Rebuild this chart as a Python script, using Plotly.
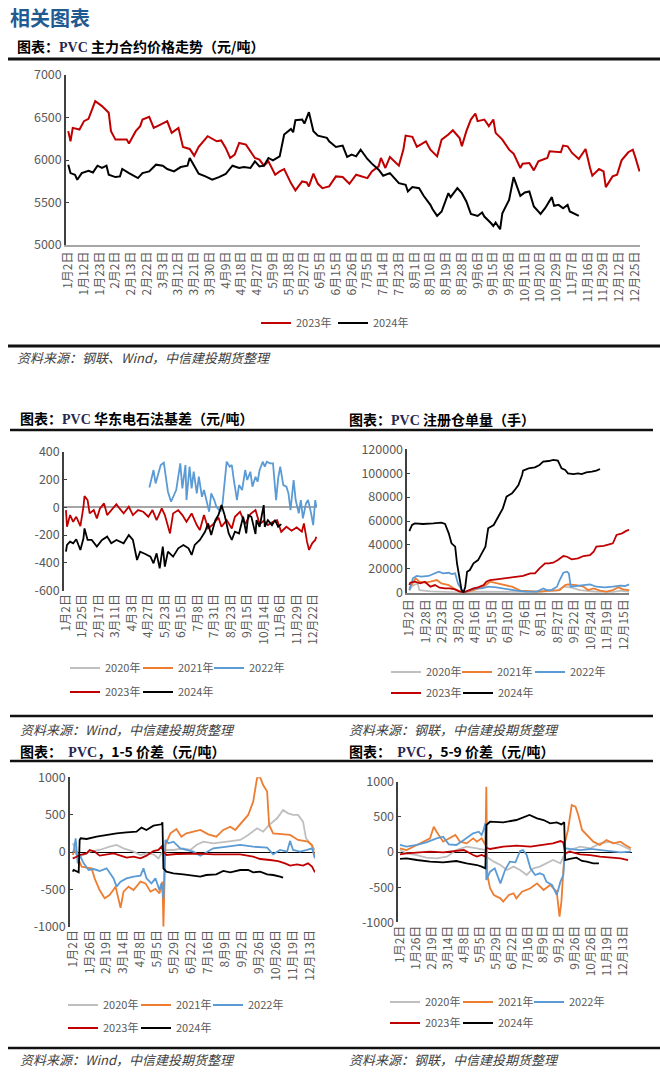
import plotly.graph_objects as go

W, H = 660, 1074


def X(px):
    return px / W


def Y(py):
    return 1 - py / H


# ---------------- data ----------------
# Chart 1: PVC main contract price (trading-day index, yuan/ton)
c1_labels = ["1月2日", "1月12日", "1月23日", "2月2日", "2月13日", "2月22日", "3月3日", "3月12日",
             "3月21日", "3月30日", "4月9日", "4月18日", "4月27日", "5月9日", "5月18日", "5月27日",
             "6月5日", "6月15日", "6月26日", "7月5日", "7月14日", "7月23日", "8月1日", "8月10日",
             "8月19日", "8月28日", "9月6日", "9月15日", "9月26日", "10月11日", "10月20日", "10月29日",
             "11月7日", "11月16日", "11月29日", "12月12日", "12月25日"]
c1_x23 = [0, 1, 2, 5, 7, 9, 12, 15, 18, 19, 21, 24, 26, 27, 30, 32, 33, 36, 38, 41, 44, 46, 49, 51, 54, 56,
          58, 61, 62, 66, 68, 70, 72, 74, 76, 79, 83, 85, 87, 89, 92, 94, 96, 99, 101, 104, 106, 107, 109,
          111, 113, 116, 119, 122, 125, 128, 131, 133, 135, 138, 139, 141, 143, 147, 149, 150, 153, 155,
          159, 161, 164, 166, 169, 171, 174, 175, 177, 179, 181, 182, 185, 187, 189, 190, 193, 196, 198,
          201, 202, 205, 207, 209, 213, 214, 219, 220, 222, 224, 227, 230, 232, 233, 236, 238, 239, 242,
          244, 246, 249, 251, 252, 254]
c1_y23 = [6340, 6220, 6378, 6358, 6457, 6484, 6693, 6634, 6555, 6339, 6240, 6240, 6240, 6193, 6339, 6398,
          6476, 6508, 6378, 6417, 6457, 6319, 6378, 6154, 6130, 6051, 6154, 6248, 6280, 6220, 6230, 6142,
          6024, 6063, 6201, 6181, 6024, 6004, 5933, 5984, 5827, 5866, 5894, 5728, 5642, 5748, 5736, 5689,
          5839, 5720, 5669, 5689, 5807, 5799, 5720, 5827, 5807, 5787, 5866, 5925, 6024, 5906, 6036, 5933,
          6122, 6287, 6272, 6154, 6220, 6122, 6043, 6240, 6299, 6350, 6259, 6161, 6339, 6476, 6547, 6457,
          6476, 6398, 6476, 6319, 6240, 6122, 6075, 5906, 5957, 5965, 5878, 5984, 6024, 6102, 6091, 6170,
          6161, 6083, 6012, 6130, 5906, 5815, 5894, 5866, 5681, 5807, 5827, 5996, 6091, 6122, 6043, 5866]
c1_x24 = [0, 1, 3, 4, 6, 9, 11, 13, 15, 17, 18, 21, 23, 24, 27, 31, 33, 36, 39, 42, 44, 47, 50, 53, 54, 56,
          58, 61, 64, 67, 70, 73, 76, 78, 81, 83, 85, 87, 89, 91, 94, 96, 99, 100, 101, 104, 105, 107, 109,
          111, 113, 115, 116, 119, 122, 124, 126, 128, 130, 133, 135, 138, 140, 143, 145, 147, 150, 151,
          153, 156, 158, 161, 162, 164, 166, 167, 169, 170, 173, 175, 177, 179, 182, 184, 185, 188, 189,
          190, 192, 193, 196, 198, 201, 203, 205, 207, 210, 212, 215, 216, 218, 220, 222, 223, 225, 227]
c1_y24 = [5945, 5846, 5827, 5768, 5846, 5874, 5854, 5933, 5906, 5933, 5827, 5799, 5807, 5894, 5846, 5787,
          5846, 5866, 5945, 5933, 5894, 5866, 5917, 5933, 6024, 5933, 5839, 5807, 5768, 5799, 5835, 5933,
          5906, 5917, 5906, 5984, 5925, 5933, 6024, 5996, 6043, 6299, 6366, 6327, 6469, 6476, 6429, 6563,
          6339, 6287, 6272, 6260, 6220, 6154, 6170, 6036, 6063, 6043, 6122, 6012, 5957, 5886, 5815, 5846,
          5787, 5728, 5709, 5630, 5681, 5669, 5579, 5472, 5421, 5342, 5394, 5472, 5610, 5563, 5669, 5610,
          5512, 5366, 5342, 5382, 5335, 5256, 5224, 5264, 5185, 5374, 5531, 5799, 5579, 5618, 5630, 5453,
          5366, 5433, 5563, 5461, 5472, 5433, 5472, 5394, 5366, 5342]
c1_yticks = [5000, 5500, 6000, 6500, 7000]
c1_yticktext = ["5000", "5500", "6000", "6500", "7000"]

# Chart 2: East China carbide-PVC basis
c2_labels = ["1月2日", "1月25日", "2月17日", "3月11日", "4月3日", "4月27日", "5月23日", "6月15日",
             "7月8日", "7月31日", "8月23日", "9月15日", "10月14日", "11月6日", "11月29日", "12月22日"]
c2_x22 = [81, 83, 85, 87, 90, 92, 95, 97, 99, 102, 104, 107, 111, 113, 116, 117, 120, 122, 124, 127, 129,
          132, 134, 137, 139, 141, 144, 146, 150, 152, 154, 156, 159, 161, 163, 166, 168, 171, 174, 176,
          179, 181, 184, 186, 188, 191, 193, 195, 198, 201, 204, 206, 208, 211, 214, 216, 218, 221, 223,
          226, 228, 230, 233, 235, 238, 240, 242, 243]
c2_y22 = [143, 215, 268, 172, 256, 304, 321, 220, 112, 40, 76, 124, 316, 136, 304, 52, 292, 136, 256, 100,
          220, 76, 124, 28, -32, 100, 52, 4, -32, 28, 172, 328, 292, 304, 196, 52, 160, 124, 268, 196, 256,
          148, 220, 184, 268, 328, 292, 328, 316, 316, 52, 208, 292, 160, 148, 100, -20, 196, 52, -44, 52,
          -80, 28, 52, -44, -128, 52, 4]
c2_x23 = [0, 1, 4, 7, 10, 14, 17, 18, 21, 23, 27, 30, 33, 37, 40, 44, 49, 52, 56, 61, 65, 70, 75, 80, 84,
          88, 93, 96, 101, 104, 109, 113, 117, 122, 127, 130, 134, 138, 143, 148, 151, 156, 161, 164, 169,
          174, 179, 184, 188, 192, 196, 201, 205, 209, 214, 219, 224, 229, 231, 234, 236, 239, 242, 243]
c2_y23 = [-20, -140, -56, -104, -68, -135, 4, 81, 52, -44, -20, -80, -8, 28, -56, -20, 23, -8, -44, 4, -56,
          -20, -32, -68, -20, -92, -8, -56, -188, -44, -20, -56, -104, -44, -128, -164, -56, -152, -121,
          -73, -140, -92, -152, -68, -32, -121, -49, -20, -121, -97, -128, -104, -92, -176, -140, -168,
          -145, -176, -116, -247, -307, -259, -235, -212]
c2_x24 = [0, 1, 4, 7, 10, 14, 17, 18, 21, 25, 30, 35, 40, 44, 49, 56, 61, 65, 69, 72, 77, 82, 85, 88, 91,
          94, 96, 99, 104, 109, 114, 119, 122, 125, 130, 135, 138, 141, 145, 148, 151, 154, 158, 161, 164,
          168, 172, 175, 177, 180, 184, 185, 188, 192, 193, 196, 200, 203, 206, 209]
c2_y24 = [-319, -271, -247, -259, -230, -307, -223, -152, -235, -235, -283, -235, -211, -259, -235, -259,
          -200, -235, -379, -319, -336, -355, -403, -331, -439, -283, -427, -319, -355, -295, -271, -295,
          -343, -271, -235, -176, -116, -200, -92, -56, 16, -56, -188, -235, -176, -188, -68, -188, -56,
          -68, -192, -92, -140, 16, -140, -92, -128, -92, -140, -121]
c2_yticks = [-600, -400, -200, 0, 200, 400]
c2_yticktext = ["-600", "-400", "-200", "0", "200", "400"]

# Chart 3: PVC registered warehouse receipts (lots)
c3_labels = ["1月2日", "1月28日", "2月23日", "3月20日", "4月16日", "5月15日", "6月10日", "7月6日",
             "8月1日", "8月27日", "9月22日", "10月24日", "11月19日", "12月15日"]
c3_x20 = [0, 3, 9, 11, 23, 44, 59, 77, 95, 117, 139, 161, 168, 176, 186, 204, 222, 230, 240]
c3_y20 = [1700, 5600, 7800, 2200, 1100, 560, 0, 800, 560, 560, 800, 1700, 5000, 4500, 2200, 800, 560, 1700,
          800]
c3_x21 = [0, 4, 7, 11, 17, 23, 30, 35, 43, 50, 59, 70, 81, 88, 95, 103, 112, 121, 132, 142, 153, 164, 170,
          173, 182, 190, 195, 201, 208, 215, 222, 228, 233, 240]
c3_y21 = [3600, 8400, 12000, 9200, 8400, 9200, 10600, 7800, 6400, 2800, 0, 2200, 5000, 9200, 7800, 6400,
          5000, 1700, 1400, 800, 1700, 2200, 6400, 7000, 6400, 5000, 2200, 3600, 1700, 800, 2200, 4500, 2800,
          2200]
c3_x22 = [0, 1, 4, 8, 13, 21, 26, 32, 37, 43, 46, 50, 53, 57, 59, 66, 73, 79, 86, 95, 106, 117, 128, 139,
          146, 150, 155, 161, 164, 168, 172, 174, 176, 181, 190, 197, 204, 213, 222, 230, 235, 240]
c3_y22 = [2200, 5000, 12000, 14000, 13400, 14000, 15600, 17600, 16200, 16700, 15600, 16200, 7800, 2800, 0,
          2200, 3600, 3600, 5000, 4500, 2800, 1700, 800, 800, 3600, 2200, 2200, 5000, 10600, 16700, 17600,
          16200, 5000, 5600, 6400, 7000, 5000, 4500, 5000, 5900, 5600, 7000]
c3_x23 = [0, 1, 6, 12, 17, 23, 28, 33, 39, 44, 50, 55, 59, 63, 66, 70, 75, 81, 84, 88, 95, 104, 112, 117,
          124, 132, 137, 142, 148, 152, 157, 162, 168, 172, 177, 184, 190, 197, 201, 204, 212, 219, 222,
          226, 232, 237, 240]
c3_y23 = [6400, 8400, 9200, 7800, 9200, 5000, 6400, 4200, 3600, 3600, 2800, 800, 0, 1400, 2800, 3600, 4500,
          6400, 9200, 10600, 11200, 12000, 12800, 13400, 14000, 16200, 16200, 20400, 24600, 24600, 25100,
          27300, 30700, 30100, 27900, 28700, 30700, 31500, 34300, 38500, 39100, 40700, 41300, 48300, 49700,
          51900, 52500]
c3_x24 = [0, 3, 6, 15, 26, 35, 39, 43, 46, 50, 52, 55, 57, 59, 61, 63, 66, 70, 75, 79, 83, 86, 92, 97, 102,
          106, 112, 115, 119, 123, 124, 130, 137, 142, 146, 152, 157, 162, 166, 170, 173, 179, 184, 188,
          193, 199, 204, 208]
c3_y24 = [51600, 56650, 58000, 57500, 58000, 58600, 57500, 49700, 41300, 38500, 24600, 9200, 2200, 0, 5000,
          17600, 19000, 24600, 27300, 32900, 38500, 53900, 56650, 63600, 70600, 80400, 83200, 86000, 90100,
          98500, 102100, 104100, 104900, 106900, 109700, 110200, 111100, 110500, 104100, 102700, 99900,
          99300, 99900, 99300, 100700, 101300, 102100, 103500]
c3_yticks = [0, 20000, 40000, 60000, 80000, 100000, 120000]
c3_yticktext = ["0", "20000", "40000", "60000", "80000", "100000", "120000"]

# Chart 4: PVC 1-5 spread
c4_labels = ["1月2日", "1月26日", "2月19日", "3月14日", "4月8日", "5月5日", "5月29日", "6月22日",
             "7月16日", "8月9日", "9月2日", "9月26日", "10月26日", "11月19日", "12月13日"]
c4_x20 = [0, 1, 6, 11, 17, 27, 37, 44, 51, 61, 68, 74, 81, 86, 89, 93, 101, 111, 118, 124, 131, 141, 155,
          168, 176, 185, 191, 197, 205, 211, 216, 221, 226, 231, 234, 238, 243]
c4_y20 = [116, 94, -62, -40, 5, 27, 71, 94, 49, 5, -40, -18, -31, -85, -18, 27, 27, 49, 27, 94, 138, 116,
          138, 161, 228, 317, 272, 362, 451, 563, 518, 496, 496, 406, 183, 116, 27]
c4_x21 = [0, 2, 6, 9, 14, 19, 22, 27, 32, 37, 43, 48, 51, 56, 61, 68, 73, 78, 83, 87, 90, 91, 93, 98, 104,
          109, 114, 121, 128, 136, 144, 151, 158, 163, 170, 176, 181, 185, 188, 191, 195, 197, 201, 208,
          218, 226, 231, 236, 240, 243]
c4_y21 = [-40, 27, -107, -196, -210, -219, -353, -509, -620, -576, -464, -746, -531, -464, -509, -397, -420,
          -531, -495, -553, -397, -1000, 94, 250, 308, 205, 250, 272, 295, 237, 205, 295, 339, 295, 406,
          496, 674, 1000, 1000, 897, 808, 362, 250, 237, 228, 161, 147, 138, 94, -85]
c4_x22 = [0, 1, 3, 5, 7, 11, 16, 21, 27, 34, 41, 44, 48, 54, 61, 68, 71, 74, 79, 83, 87, 89, 91, 93, 96,
          101, 108, 114, 121, 128, 134, 141, 155, 168, 181, 195, 201, 208, 215, 218, 221, 228, 235, 240, 243]
c4_y22 = [-4, 13, 183, -152, -40, -152, -241, -228, -254, -219, -353, -464, -397, -353, -330, -317, -219,
          -353, -420, -353, -509, -420, -620, 161, 116, 138, 49, 27, 5, -49, -4, 49, 71, 94, 71, 58, -31,
          27, 5, 147, 27, 5, 27, 49, -85]
c4_x23 = [0, 2, 7, 14, 17, 22, 27, 34, 41, 48, 54, 61, 68, 74, 81, 86, 89, 91, 94, 104, 114, 128, 141, 155,
          168, 181, 188, 198, 206, 213, 218, 225, 231, 236, 240, 243]
c4_y23 = [-85, -76, -40, -18, 27, 5, -49, -31, -18, -49, -76, -62, -85, -49, 13, 27, 71, 5, -40, -27, -22,
          -22, -31, -31, -31, -62, -94, -107, -121, -152, -183, -165, -183, -152, -196, -272]
c4_x24 = [0, 1, 6, 7, 8, 14, 24, 34, 44, 54, 64, 69, 74, 81, 86, 89, 90, 91, 94, 101, 111, 121, 128, 134,
          144, 151, 158, 168, 176, 181, 188, 195, 201, 208, 211]
c4_y24 = [-263, -241, -272, 161, 183, 174, 205, 228, 250, 263, 272, 326, 295, 353, 362, 371, 397, -219,
          -263, -286, -299, -317, -330, -308, -299, -254, -272, -241, -241, -272, -263, -299, -308, -330,
          -344]
spread_yticks = [-1000, -500, 0, 500, 1000]
spread_yticktext = ["-1000", "-500", "0", "500", "1000"]

# Chart 5: PVC 5-9 spread
c5_labels = c4_labels
c5_x20 = [0, 7, 18, 28, 39, 50, 60, 71, 82, 91, 92, 100, 107, 114, 121, 128, 135, 142, 149, 156, 163, 171,
          174, 181, 192, 203, 213, 224, 235, 246]
c5_y20 = [28, -19, -43, -80, -90, -66, 28, 76, 52, 28, -66, -137, -185, -256, -208, -256, -327, -232, -208,
          -161, -114, -161, -66, 28, 76, 52, 123, 147, 100, 28]
c5_x21 = [0, 7, 18, 25, 32, 36, 39, 46, 53, 59, 64, 71, 78, 82, 87, 91, 92, 93, 96, 100, 107, 110, 116,
          121, 124, 130, 139, 146, 153, 160, 167, 170, 172, 176, 179, 183, 187, 190, 194, 199, 206, 213, 220,
          227, 235, 240, 246]
c5_y21 = [52, 28, 100, 147, 194, 360, 289, 147, 194, 242, 147, 123, 194, 147, 194, 100, 929, -327, -516,
          -611, -659, -706, -611, -588, -659, -564, -516, -446, -540, -469, -564, -919, -706, 147, 313, 668,
          645, 526, 313, 242, 147, 100, 171, 123, 147, 100, 52]
c5_x22 = [0, 7, 18, 28, 39, 46, 52, 60, 68, 75, 78, 84, 87, 89, 91, 92, 96, 101, 107, 112, 117, 123, 128,
          131, 135, 139, 144, 149, 153, 156, 162, 167, 171, 174, 176, 181, 192, 203, 213, 224, 235, 246]
c5_y22 = [100, 76, 100, 137, 194, 218, 109, 100, 171, 242, 265, 289, 242, 313, 408, -398, -280, -232, -446,
          -256, -137, -147, 14, 28, -43, -232, -327, -303, -327, -422, -469, -611, -422, -327, 52, 43, 28,
          43, 28, 5, -5, 5]
c5_x23 = [0, 7, 21, 32, 46, 57, 68, 78, 82, 87, 91, 92, 96, 110, 124, 139, 153, 163, 171, 174, 176, 181,
          192, 203, 213, 224, 235, 243]
c5_y23 = [-33, -19, -5, 5, -5, 14, 28, -43, -66, -43, -66, 62, 43, 76, 90, 76, 109, 123, 156, 137, -19, 5,
          -33, -43, -66, -80, -90, -114]
c5_x24 = [0, 7, 18, 32, 46, 60, 71, 82, 87, 91, 92, 96, 110, 124, 138, 146, 153, 160, 167, 172, 175, 176,
          181, 188, 194, 199, 206, 212]
c5_y24 = [-99, -90, -114, -137, -147, -128, -161, -185, -208, -232, 384, 431, 422, 455, 526, 479, 455, 408,
          422, 393, 422, -114, -99, -80, -128, -137, -161, -161]

colors = {"2020年": "#BFBFBF", "2021年": "#ED7D31", "2022年": "#5B9BD5",
          "2023年": "#C00000", "2024年": "#000000"}

# ---------------- figure ----------------
fig = go.Figure()
FONT = "Noto Sans CJK SC"
TICKC = "#595959"
legends = {}


def legend_cfg(px, py):
    return dict(orientation="h", x=X(px), y=Y(py), xanchor="left", yanchor="middle",
                font=dict(family=FONT, size=11, color=TICKC), bgcolor="rgba(0,0,0,0)",
                itemwidth=30, tracegroupgap=0, itemclick=False, itemdoubleclick=False)


def add(xs, ys, year, xa, ya, lx, ly, shift, width=1.8):
    n = len(fig.data) + 1
    lid = "legend" if n == 1 else f"legend{n}"
    legends[lid] = legend_cfg(lx - shift, ly)
    fig.add_trace(go.Scatter(
        x=xs if xs is not None else [None], y=ys if ys is not None else [None],
        mode="lines", name=year, line=dict(color=colors[year], width=width),
        xaxis=xa, yaxis=ya, legend=lid, showlegend=True, hoverinfo="skip"))


# chart 1
add(c1_x23, c1_y23, "2023年", "x", "y", 268, 323, 12, 2)
add(c1_x24, c1_y24, "2024年", "x", "y", 345, 323, 12, 2)

# chart 2
add(None, None, "2020年", "x2", "y2", 79, 668, 14)
add(None, None, "2021年", "x2", "y2", 147, 668, 9)
add(c2_x22, c2_y22, "2022年", "x2", "y2", 213, 668, 4)
add(c2_x23, c2_y23, "2023年", "x2", "y2", 79, 692, 14)
add(c2_x24, c2_y24, "2024年", "x2", "y2", 147, 692, 9)

# chart 3
add(c3_x20, c3_y20, "2020年", "x3", "y3", 400, 672, 14)
add(c3_x21, c3_y21, "2021年", "x3", "y3", 466, 672, 9)
add(c3_x22, c3_y22, "2022年", "x3", "y3", 534, 672, 4)
add(c3_x23, c3_y23, "2023年", "x3", "y3", 400, 693, 14)
add(c3_x24, c3_y24, "2024年", "x3", "y3", 467, 693, 9)

# chart 4
add(c4_x20, c4_y20, "2020年", "x4", "y4", 77, 1005, 14)
add(c4_x21, c4_y21, "2021年", "x4", "y4", 145, 1005, 9)
add(c4_x22, c4_y22, "2022年", "x4", "y4", 212, 1005, 4)
add(c4_x23, c4_y23, "2023年", "x4", "y4", 77, 1028, 14)
add(c4_x24, c4_y24, "2024年", "x4", "y4", 145, 1028, 9)

# chart 5
add(c5_x20, c5_y20, "2020年", "x5", "y5", 399, 1002, 14)
add(c5_x21, c5_y21, "2021年", "x5", "y5", 467, 1002, 9)
add(c5_x22, c5_y22, "2022年", "x5", "y5", 533, 1002, 4)
add(c5_x23, c5_y23, "2023年", "x5", "y5", 399, 1023, 14)
add(c5_x24, c5_y24, "2024年", "x5", "y5", 467, 1023, 9)


def xaxis_cfg(px0, px1, rng, labels, step, anchor, showline, linecolor="#A6A6A6"):
    return dict(domain=[X(px0), X(px1)], range=rng, anchor=anchor, automargin=False,
                tickmode="array", tickvals=[i * step for i in range(len(labels))], ticktext=labels,
                tickangle=-90, tickfont=dict(family=FONT, size=12, color=TICKC),
                showgrid=False, zeroline=False, showline=showline, linecolor=linecolor, linewidth=1.5,
                ticks="", fixedrange=True)


def yaxis_cfg(py_top, py_bot, rng, tv, tt, anchor, size=12.5, zeroline=False, zc="#A6A6A6", zw=1.5):
    return dict(domain=[Y(py_bot), Y(py_top)], range=rng, anchor=anchor, automargin=False,
                tickmode="array", tickvals=tv, ticktext=tt,
                tickfont=dict(family=FONT, size=size, color=TICKC),
                showgrid=False, zeroline=zeroline, zerolinecolor=zc, zerolinewidth=zw,
                showline=True, linecolor="#404040", linewidth=1.5,
                ticks="inside", ticklen=3, tickcolor="#404040", fixedrange=True)


layout = dict(
    template="none",
    width=W, height=H, margin=dict(l=0, r=0, t=0, b=0, pad=0, autoexpand=False),
    paper_bgcolor="white", plot_bgcolor="white",
    font=dict(family=FONT, color=TICKC),
    xaxis=xaxis_cfg(66, 640, [-1, 254.2], c1_labels, 7, "y", True),
    yaxis=yaxis_cfg(75, 245, [5000, 7000], c1_yticks, c1_yticktext, "x"),
    xaxis2=xaxis_cfg(64, 317, [-1.9, 243.7], c2_labels, 16, "y2", False),
    yaxis2=yaxis_cfg(451.7, 590.7, [-600, 400], c2_yticks, c2_yticktext, "x2",
                     zeroline=True, zc="#A6A6A6", zw=2),
    xaxis3=xaxis_cfg(407.3, 629.3, [-2.2, 239.9], c3_labels, 18, "y3", True, "#7F7F7F"),
    yaxis3=yaxis_cfg(449.3, 592.7, [0, 120000], c3_yticks, c3_yticktext, "x3"),
    xaxis4=xaxis_cfg(70, 315, [-2.7, 243.0], c4_labels, 17, "y4", False),
    yaxis4=yaxis_cfg(777.3, 926.7, [-1000, 1000], spread_yticks, spread_yticktext, "x4",
                     zeroline=True, zc="#000000", zw=1),
    xaxis5=xaxis_cfg(398.3, 631.7, [-1.8, 246.9], c5_labels, 17, "y5", False),
    yaxis5=yaxis_cfg(781.7, 922.3, [-1000, 1000], spread_yticks, spread_yticktext, "x5",
                     zeroline=True, zc="#000000", zw=1),
)
layout.update(legends)
fig.update_layout(**layout)

# horizontal rules
rules = [(8, 660, 59, 3), (8, 660, 346, 3), (10, 653, 430, 2.5), (10, 653, 716, 2.5),
         (10, 653, 761, 2.5), (8, 660, 1048, 2.5)]
for x0, x1, yy, w in rules:
    fig.add_shape(type="line", xref="paper", yref="paper", x0=X(x0), x1=X(x1), y0=Y(yy), y1=Y(yy),
                  line=dict(color="#111111", width=w))

PVC = "<span style='font-family:Liberation Serif;color:#26264F'>PVC</span>"
TS = 14
SS = 13
fig.add_annotation(xref="paper", yref="paper", x=X(8), y=Y(1), xanchor="left", yanchor="top",
                   text="<b>相关图表</b>", showarrow=False,
                   font=dict(size=20, color="#1F5A91", family=FONT))
texts = [
    (15, 46, f"<b>图表：{PVC} 主力合约价格走势（元/吨）</b>", TS, "#000000"),
    (15, 357, "<i>资料来源：钢联、Wind，中信建投期货整理</i>", SS, "#404040"),
    (18, 418, f"<b>图表：{PVC} 华东电石法基差（元/吨）</b>", TS, "#000000"),
    (347, 419, f"<b>图表：{PVC} 注册仓单量（手）</b>", TS, "#000000"),
    (18, 729, "<i>资料来源：Wind，中信建投期货整理</i>", SS, "#404040"),
    (347, 729, "<i>资料来源：钢联，中信建投期货整理</i>", SS, "#404040"),
    (18, 751, f"<b>图表：  {PVC}，1-5 价差（元/吨）</b>", TS, "#000000"),
    (347, 751, f"<b>图表：  {PVC}，5-9 价差（元/吨）</b>", TS, "#000000"),
    (18, 1059, "<i>资料来源：Wind，中信建投期货整理</i>", SS, "#404040"),
    (347, 1059, "<i>资料来源：钢联，中信建投期货整理</i>", SS, "#404040"),
]
for px, py, t, s, c in texts:
    fig.add_annotation(xref="paper", yref="paper", x=X(px), y=Y(py), xanchor="left", yanchor="middle",
                       text=t, showarrow=False, font=dict(size=s, color=c, family=FONT))

# remove the browser's default 8px page margin so the figure fills the window exactly
fig.write_html("out.html", config={"displayModeBar": False},
               post_script="document.body.style.margin='0px';")
